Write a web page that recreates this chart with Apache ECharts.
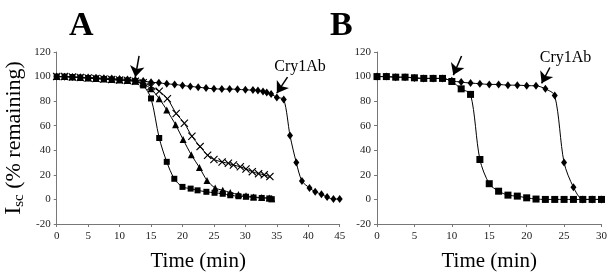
<!DOCTYPE html>
<html>
<head>
<meta charset="utf-8">
<script src="https://cdn.jsdelivr.net/npm/echarts@6/dist/echarts.min.js"></script>
<style>
  html, body { margin: 0; padding: 0; background: #fff; }
  #chart { width: 610px; height: 277px; }
</style>
</head>
<body>
<div id="chart"></div>
<script>
// panel A, Isc (% remaining) vs time (min)
var earlyT = [0, 1.25, 2.5, 3.75, 5, 6.25, 7.5, 8.75, 10, 11.25, 12.5];
var earlyV = [100, 100, 99.6, 99.2, 98.8, 98.4, 98, 97.6, 97.2, 96.8, 96.2];

var aDiaT = [0, 1.25, 2.5, 3.75, 5, 6.25, 7.5, 8.75, 10, 11.25, 12.5, 13.75, 15, 16.25, 17.5, 18.75, 20, 21.25, 22.5, 23.75, 25, 26.25, 27.5, 28.75, 30, 31.2, 32, 32.8, 33.4, 34.1, 35, 36.1, 37.1, 38.1, 39, 40.2, 41.1, 42.1, 43, 44, 45];
var aDiaV = [100, 99.8, 99.6, 99.4, 99.2, 99, 98.7, 98.4, 98.1, 97.7, 97.2, 96.4, 95.4, 94.9, 94.1, 93.6, 92.8, 92, 91.4, 90.6, 90.1, 89.8, 89.8, 89.6, 89.2, 89, 88.6, 87.8, 87, 85.8, 83, 81.4, 52, 30, 15, 9.4, 6.2, 4.3, 1.9, 0.3, 0.3];

var aSqT = [13.75, 15, 16.3, 17.5, 18.7, 20, 21.3, 22.4, 23.8, 25.1, 26.4, 27.6, 28.9, 30.1, 31.3, 32.6, 33.8, 34.2];
var aSqV = [92.8, 82.2, 50, 30.6, 16.8, 10.2, 8.8, 7.4, 6.2, 5.4, 4.6, 3.4, 2.6, 2.2, 1.6, 1.2, 0.8, 0.2];

var aTriT = [13.75, 15, 16.3, 17.5, 18.9, 20.1, 21.4, 22.7, 23.9, 25.2, 26.4, 27.6, 28.9, 30.1, 31.3, 32.6, 33.8, 34.2];
var aTriV = [94, 90, 82, 72.8, 60.8, 48.8, 36.3, 26, 15.5, 9.3, 7.5, 5.6, 4, 3, 2, 1.5, 1.2, 0.5];

var aCrT = [13.75, 15, 16.3, 17.6, 19, 20.3, 21.5, 22.8, 24, 25, 26.3, 27.3, 28.1, 29.2, 30.1, 31.1, 32.1, 33, 33.9];
var aCrV = [95, 92, 88, 82, 70, 62, 51.4, 43, 36, 32.5, 30.5, 29.4, 28, 26.6, 24.8, 22.6, 21, 20, 18.6];

// panel B
var bT = [0, 1.25, 2.5, 3.75, 5, 6.25, 7.5, 8.75, 10, 11.25, 12.5, 13.75, 15, 16.25, 17.5, 18.75, 20, 21.25, 22.5, 23.75, 25, 26.25, 27.5, 28.75, 30];
var bSqV = [100, 100, 99.5, 99.5, 99, 98.5, 98.5, 98.5, 96, 90, 85.5, 32.5, 12.8, 6.7, 3.5, 2.7, 1.3, 0.3, 0, 0, 0, 0, 0, 0, 0];
var bDiaV = [100, 100, 99.5, 99.5, 98.8, 98.5, 98.5, 98.5, 96.5, 95.5, 94.7, 94.2, 93.6, 93.6, 93, 93, 92.6, 92.5, 90, 84.5, 30, 10, 0, 0, 0];

var yTicks = [-20, 0, 20, 40, 60, 80, 100, 120];

function pairs(t, v) {
  return t.map(function (x, i) { return [x, v[i]]; });
}

var serif = 'Liberation Serif';
var crossPath = 'path://M0,1L1,0L5,4L9,0L10,1L6,5L10,9L9,10L5,6L1,10L0,9L4,5Z';

function line(name, data, symbol, size, gi) {
  return {
    name: name,
    type: 'line',
    xAxisIndex: gi,
    yAxisIndex: gi,
    data: data,
    symbol: symbol,
    symbolSize: size,
    smooth: 0.3,
    lineStyle: { color: '#000', width: 1 },
    itemStyle: { color: '#000' },
    animation: false
  };
}

function arrowMark(lines, texts) {
  return {
    markLine: {
      silent: true,
      symbol: ['none', 'arrow'],
      symbolSize: 11,
      lineStyle: { color: '#000', width: 1.5, type: 'solid' },
      label: { show: false },
      data: lines.map(function (l) { return [{ coord: l[0] }, { coord: l[1] }]; })
    },
    markPoint: {
      silent: true,
      symbol: 'circle',
      symbolSize: 0,
      label: { show: true, position: 'inside', color: '#000', fontFamily: serif, fontSize: 16 },
      data: texts.map(function (t) { return { coord: t[0], value: t[1], label: { formatter: t[1] } }; })
    }
  };
}

function xAxis(gi, max) {
  return {
    type: 'value', gridIndex: gi, min: 0, max: max, interval: 5,
    name: 'Time (min)', nameLocation: 'middle', nameGap: 27,
    nameTextStyle: { fontFamily: serif, fontSize: 21, color: '#000' },
    axisLine: { onZero: false, lineStyle: { color: '#777' } },
    axisTick: { length: 3, lineStyle: { color: '#777' } },
    axisLabel: { fontFamily: serif, fontSize: 11, color: '#222', margin: 7 },
    splitLine: { show: false }
  };
}

function yAxis(gi) {
  return {
    type: 'value', gridIndex: gi, min: yTicks[0], max: yTicks[yTicks.length - 1], interval: 20,
    axisLine: { show: true, lineStyle: { color: '#777' } },
    axisTick: { show: true, length: 3, lineStyle: { color: '#777' } },
    axisLabel: { fontFamily: serif, fontSize: 11, color: '#222', margin: 6 },
    splitLine: { show: false }
  };
}

var yA = yAxis(0);
yA.name = '{a|I}{b|sc}{c| (% remaining)}';
yA.nameLocation = 'middle';
yA.nameGap = 30;
yA.nameTextStyle = {
  fontFamily: serif, color: '#000',
  rich: {
    a: { fontFamily: serif, fontSize: 24, color: '#000' },
    b: { fontFamily: serif, fontSize: 15, color: '#000', verticalAlign: 'bottom', padding: [10, 0, 0, 0] },
    c: { fontFamily: serif, fontSize: 22, color: '#000' }
  }
};

var sDiaA = line('Cry1Ab', pairs(aDiaT, aDiaV), 'diamond', [6, 8], 0);
Object.assign(sDiaA, arrowMark(
  [[[13.1, 116.8], [12.5, 99.6]], [[36.7, 99.5], [35.0, 86.5]]],
  [[[38.7, 108], 'Cry1Ab']]
));
var sDiaB = line('Cry1Ab B', pairs(bT, bDiaV), 'diamond', [6, 8], 1);
Object.assign(sDiaB, arrowMark(
  [[[11.3, 116.8], [10.2, 101.2]], [[23.1, 107.4], [22.0, 94.5]]],
  [[[25.2, 115.2], 'Cry1Ab']]
));

var option = {
  backgroundColor: '#fff',
  animation: false,
  title: [
    { text: 'A', left: 64, top: 4, textStyle: { fontFamily: serif, fontSize: 34, fontWeight: 'bold', color: '#000' } },
    { text: 'B', left: 325, top: 4, textStyle: { fontFamily: serif, fontSize: 34, fontWeight: 'bold', color: '#000' } }
  ],
  grid: [
    { left: 56.7, top: 52, width: 283, height: 174.3 },
    { left: 377, top: 52, width: 226.5, height: 174.3 }
  ],
  xAxis: [xAxis(0, 45), xAxis(1, 30)],
  yAxis: [yA, yAxis(1)],
  series: [
    sDiaA,
    line('sq', pairs(earlyT.concat(aSqT), earlyV.concat(aSqV)), 'rect', 6, 0),
    line('tri', pairs(earlyT.concat(aTriT), earlyV.concat(aTriV)), 'triangle', 7, 0),
    line('cross', pairs(earlyT.concat(aCrT), earlyV.concat(aCrV)), crossPath, 8, 0),
    sDiaB,
    line('sq B', pairs(bT, bSqV), 'rect', 7, 1)
  ]
};

var chart = echarts.init(document.getElementById('chart'), null, { renderer: 'canvas' });
chart.setOption(option);
</script>
</body>
</html>
